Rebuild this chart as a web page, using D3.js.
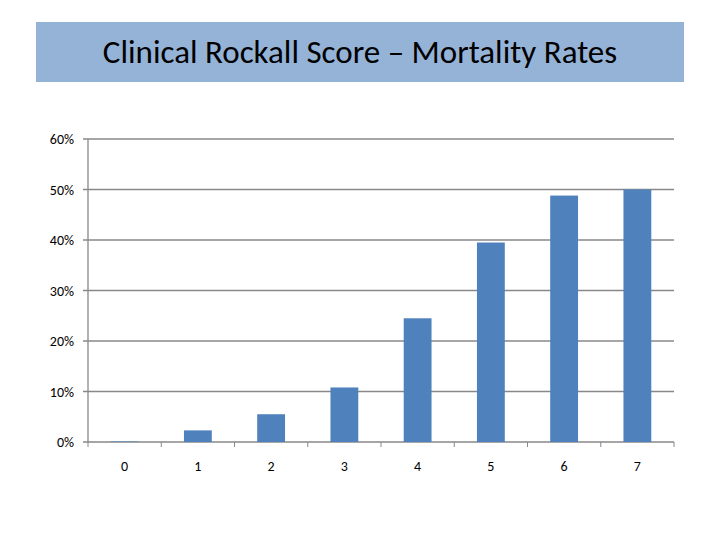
<!DOCTYPE html>
<html><head><meta charset="utf-8">
<script src="https://cdn.jsdelivr.net/npm/d3@7"></script>
<style>body{margin:0;background:#fff}</style>
</head><body><svg id="c" width="720" height="540"></svg>
<script>
var scores = ["0","1","2","3","4","5","6","7"]
var mortality = [0.001, 0.023, 0.055, 0.108, 0.245, 0.395, 0.488, 0.50]
var yTicks = [0, 0.1, 0.2, 0.3, 0.4, 0.5, 0.6]

let svg = d3.select("#c")
let font = "Carlito, Lato, 'Open Sans', sans-serif"

// title box
svg.append("rect").attr("x", 36).attr("y", 22).attr("width", 648).attr("height", 60).attr("fill", "#95b3d7")
svg.append("text").attr("x", 360).attr("y", 63).attr("text-anchor", "middle")
  .attr("font-family", font).attr("font-size", 33).attr("fill", "#000")
  .text("Clinical Rockall Score – Mortality Rates")

let x = d3.scaleBand().domain(scores).range([88, 674]).paddingInner(0.62).paddingOuter(0.31)
let y = d3.scaleLinear().domain([0, 0.6]).range([442, 139])

svg.append("g").selectAll("line").data(yTicks).join("line")
  .attr("x1", 83).attr("x2", 674).attr("y1", d => y(d)).attr("y2", d => y(d))
  .attr("stroke", "#888").attr("stroke-width", 1.3)
svg.append("line").attr("x1", 88).attr("x2", 88).attr("y1", 139).attr("y2", 442).attr("stroke", "#888").attr("stroke-width", 1.3)
svg.append("g").selectAll("line").data(d3.range(9)).join("line")
  .attr("x1", d => 88 + d * 586 / 8).attr("x2", d => 88 + d * 586 / 8)
  .attr("y1", 442).attr("y2", 447).attr("stroke", "#888")

svg.append("g").selectAll("rect").data(mortality).join("rect")
  .attr("x", (d, i) => x(scores[i])).attr("width", x.bandwidth())
  .attr("y", d => y(d)).attr("height", d => y(0) - y(d))
  .attr("fill", "#4f81bd")

svg.append("g").selectAll("text").data(yTicks).join("text")
  .attr("x", 74).attr("y", d => y(d) + 5).attr("text-anchor", "end")
  .attr("font-family", font).attr("font-size", 14).text(d => d3.format(".0%")(d))

svg.append("g").selectAll("text").data(scores).join("text")
  .attr("x", d => x(d) + x.bandwidth() / 2).attr("y", 471).attr("text-anchor", "middle")
  .attr("font-family", font).attr("font-size", 14).text(d => d)
</script></body></html>
